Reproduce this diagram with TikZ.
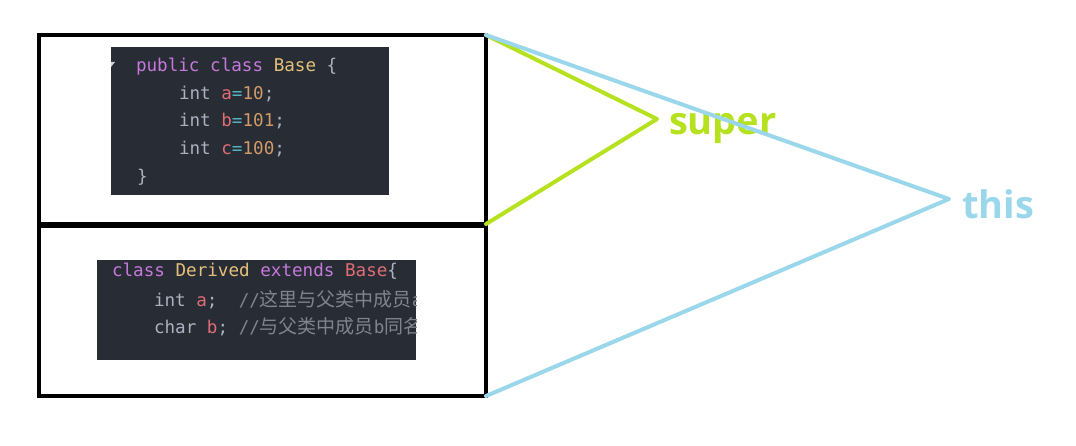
\documentclass[tikz,border=0pt]{standalone}
\usepackage{fontspec}
\setmainfont{Open Sans}
\setmonofont{DejaVu Sans Mono}
\newfontfamily\cjk{Noto Sans CJK SC}

\definecolor{panelbg}{HTML}{282C34}
\definecolor{kwpurple}{HTML}{C678DD}
\definecolor{clsyellow}{HTML}{E5C07B}
\definecolor{varred}{HTML}{E06C75}
\definecolor{numorange}{HTML}{D19A66}
\definecolor{opcyan}{HTML}{56B6C2}
\definecolor{plaingray}{HTML}{ABB2BF}
\definecolor{cmtgray}{HTML}{7F848E}
\definecolor{supergreen}{HTML}{B5E11E}
\definecolor{thisblue}{HTML}{9AD7EA}

\newcommand\kw[1]{\textcolor{kwpurple}{#1}}
\newcommand\cls[1]{\textcolor{clsyellow}{#1}}
\newcommand\var[1]{\textcolor{varred}{#1}}
\newcommand\num[1]{\textcolor{numorange}{#1}}
\newcommand\op[1]{\textcolor{opcyan}{#1}}
\newcommand\cmt[1]{\textcolor{cmtgray}{#1}}
\newcommand\zh[1]{{\cjk\fontsize{19}{20}\selectfont #1}}

\begin{document}
\begin{tikzpicture}[x=1pt, y=-1pt,
    every node/.style = {inner sep=0pt, outer sep=0pt},
    framebox/.style = {shape=rectangle, draw, line width=4.5pt},
    panel/.style = {shape=rectangle, fill=panelbg},
    codeline/.style = {anchor=base west, text=plaingray,
      font=\ttfamily\fontsize{17.6}{20}\selectfont\frenchspacing},
    link/.style = {line width=4pt, line cap=round, line join=round},
    reflabel/.style = {anchor=base west,
      font=\bfseries\fontsize{38}{40}\selectfont}]
  \useasboundingbox (0,0) rectangle (1076,446);

  % the two classes
  \node[framebox, minimum width=447pt, minimum height=189pt] (basebox) at (262.5,129.5) {};
  \node[framebox, minimum width=447pt, minimum height=170pt] (derivedbox) at (262.5,311) {};

  % code of the base class
  \node[panel, minimum width=278pt, minimum height=148pt] (basecode) at (250,121) {};
  \fill[plaingray!60] (111,62) -- (115,62) -- (111,67) -- cycle;
  \node[codeline] (base1) at (136,72) {\kw{public class} \cls{Base} \{};
  \node[codeline] (base2) at (179,100) {int \var{a}\op{=}\num{10};};
  \node[codeline] (base3) at (179,127) {int \var{b}\op{=}\num{101};};
  \node[codeline] (base4) at (179,155) {int \var{c}\op{=}\num{100};};
  \node[codeline] (base5) at (137,183) {\}};

  % code of the derived class
  \node[panel, minimum width=319pt, minimum height=100pt] (derivedcode) at (256.5,310) {};
  \begin{scope}
    \clip (97,260) rectangle (416,360);
    \node[codeline] (derived1) at (112,277) {\kw{class} \cls{Derived} \kw{extends} \var{Base}\{};
    \node[codeline] (derived2) at (154,306) {int \var{a};~~\cmt{//\zh{这里与父类中成员}a}};
    \node[codeline] (derived3) at (154,333) {char \var{b}; \cmt{//\zh{与父类中成员}b\zh{同名}}};
  \end{scope}

  % super and this
  \coordinate (superpt) at (657,119);
  \coordinate (thispt) at (949,199);
  \node[reflabel, text=supergreen] (super) at (669,135) {super};
  \node[reflabel, text=thisblue] (this) at (962,219) {this};
  \draw[link, supergreen] (basebox.north east) -- (superpt) -- (basebox.south east);
  \draw[link, thisblue] (basebox.north east) -- (thispt) -- (derivedbox.south east);
\end{tikzpicture}
\end{document}
